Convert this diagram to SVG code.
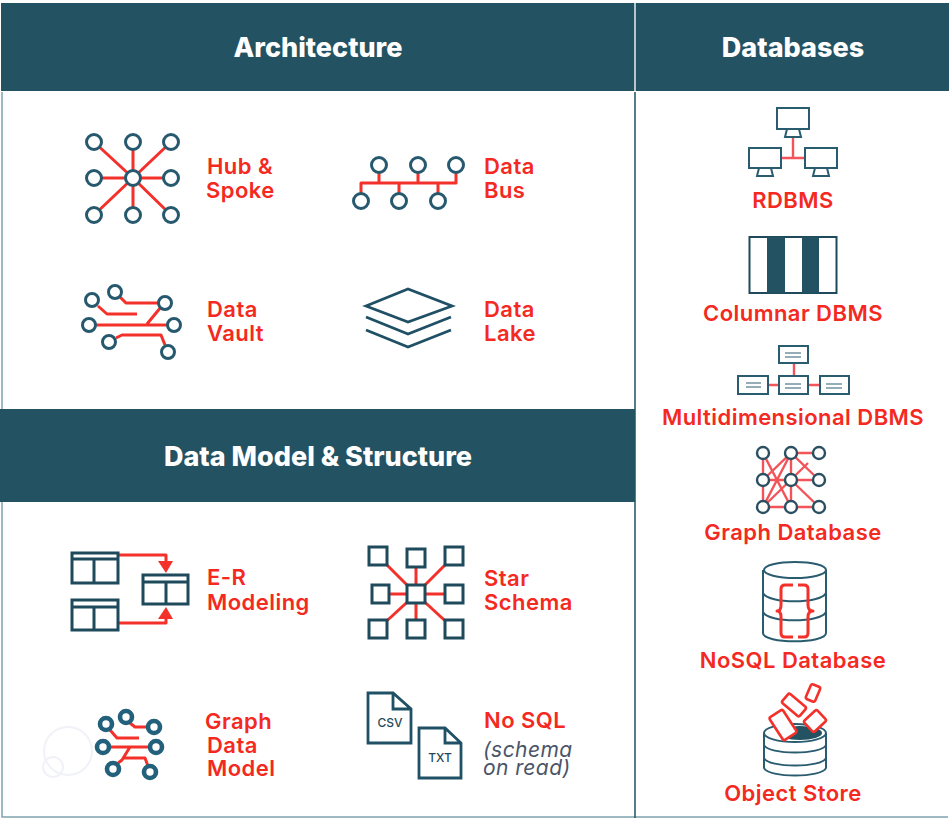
<svg xmlns="http://www.w3.org/2000/svg" width="950" height="820" viewBox="0 0 950 820">
<defs>
<style>
text{font-family:"Inter","Liberation Sans",sans-serif;font-weight:600;letter-spacing:.45px}
.h{fill:#fff;font-size:27px;font-weight:800;text-anchor:middle;letter-spacing:0}
.l{fill:#f4291f;font-size:22px}
.c{fill:#f4291f;font-size:22px;text-anchor:middle}
.i{fill:#4b5568;font-size:21px;font-weight:400;font-style:italic}
.band{fill:#235262}
.n{fill:#fff;stroke:#27596e;stroke-width:3}
.n2{fill:#fff;stroke:#2a4f60;stroke-width:2.4}
.n3{fill:#fff;stroke:#22607c;stroke-width:4.6}
.s{fill:none;stroke:#1f5065;stroke-width:2.8;stroke-linejoin:miter}
.b{fill:#fff;stroke:#1f4a5c;stroke-width:3;stroke-linejoin:miter}
.s2{fill:#fff;stroke:#2a5c70;stroke-width:2;stroke-linejoin:miter}
.s3{fill:none;stroke:#2a5c70;stroke-width:2}
.r{fill:none;stroke:#f4302a;stroke-width:3;stroke-linejoin:round}
.r2{fill:none;stroke:#f2545a;stroke-width:2.4}
.o{fill:#fff;stroke:#f4302a;stroke-width:2.6}
.t{fill:#1f4a5c;font-size:12px;font-weight:500;text-anchor:middle;letter-spacing:0}
</style>
</defs>
<rect width="950" height="820" fill="#fff"/>
<g id="frame">
<path d="M2 92V817H948" stroke="#7fa2af" stroke-width="1.5" fill="none"/>
<path d="M635 92V818" stroke="#2a5c70" stroke-width="1.6" fill="none"/>
<rect class="band" x="1" y="3" width="948" height="88"/>
<rect class="band" x="0" y="409" width="635" height="93"/>
<path d="M635 3V91" stroke="#e8eef0" stroke-width="1.5" fill="none"/>
</g>
<g id="watermark" fill="none" stroke="#f0f2f7" stroke-width="2">
<circle cx="68" cy="751" r="24"/><circle cx="53" cy="767" r="10"/>
</g>
<g id="connectors">
<path class="r" d="M94 142L133 178L171 142M133 142V215M94 178H171M94 215L133 178L171 215"/>
<path class="r" d="M361 199V183H456V165M379 165V183M418 165V183M399 201V183M438 201V183"/>
<path class="r" d="M98 306L107 314H137M120 297L126 303H158M89 325H174M147 324L161 307M116 338L122 335H161L165 345"/>
<path class="r" d="M118 555H166V562M118 623H166V618"/>
<path d="M158 561H173L166 573ZM158 619H173L166 607Z" fill="#f4302a"/>
<path class="r" d="M378 556L416 594L454 556M416 558V629M380 594H454M378 629L416 594L454 629"/>
<path class="r" d="M110 730L117 738H139M130 723L135 727H147M109 747H150M130 747L122 760L117 764M123 758H145L148 766"/>
<path class="r2" d="M793 137V158M781 158H805"/>
<path class="r2" d="M794 364V385M767 385H820"/>
<path class="r2" d="M763 453V507M791 453V507M791 453H819M763 480H819M763 507H819M763 453L791 507M791 453L763 507M763 480L791 453L819 480M763 507L808 463M791 480L819 507"/>
</g>
<g id="hub-spoke">
<circle class="n" cx="94" cy="142" r="7.500"/><circle class="n" cx="133" cy="142" r="7.500"/><circle class="n" cx="171" cy="142" r="7.500"/>
<circle class="n" cx="94" cy="178" r="7.500"/><circle class="n" cx="133" cy="178" r="7.500"/><circle class="n" cx="171" cy="178" r="7.500"/>
<circle class="n" cx="94" cy="215" r="7.500"/><circle class="n" cx="133" cy="215" r="7.500"/><circle class="n" cx="171" cy="215" r="7.500"/>
<text class="l" x="207" y="174">Hub &amp;</text><text class="l" x="206" y="198">Spoke</text>
</g>
<g id="data-bus">
<circle class="n" cx="379" cy="165" r="7.500"/><circle class="n" cx="418" cy="165" r="7.500"/><circle class="n" cx="456" cy="165" r="7.500"/>
<circle class="n" cx="361" cy="201" r="7.500"/><circle class="n" cx="399" cy="201" r="7.500"/><circle class="n" cx="438" cy="201" r="7.500"/>
<text class="l" x="484" y="174">Data</text><text class="l" x="484" y="198">Bus</text>
</g>
<g id="data-vault">
<circle class="n" cx="92" cy="300" r="6.500"/><circle class="n" cx="115" cy="292" r="6.500"/><circle class="n" cx="165" cy="303" r="6.500"/>
<circle class="n" cx="89" cy="325" r="6.500"/><circle class="n" cx="174" cy="325" r="6.500"/><circle class="n" cx="109" cy="342" r="6.500"/><circle class="n" cx="168" cy="352" r="6.500"/>
<text class="l" x="207" y="317">Data</text><text class="l" x="207" y="341">Vault</text>
</g>
<g id="data-lake">
<path class="s" d="M366 306L408 289L452 306L408 322Z"/>
<path class="s" d="M366 317L408 334L451 317M366 330L408 347L451 330"/>
<text class="l" x="484" y="317">Data</text><text class="l" x="484" y="341">Lake</text>
</g>
<g id="rdbms">
<path class="s2" d="M777 108H809V129H777ZM787 129H799L801 137H785ZM749 148H781V168H749ZM759 168H771L773 176H757ZM805 148H837V168H805ZM815 168H827L829 176H813Z"/>
<text class="c" x="793" y="208">RDBMS</text>
</g>
<g id="columnar">
<rect x="749.500" y="237" width="87" height="56" fill="none" stroke="#1f4a5c" stroke-width="2"/>
<rect x="767" y="237" width="18" height="56" fill="#235262"/><rect x="802" y="237" width="17" height="56" fill="#235262"/>
<text class="c" x="793" y="321">Columnar DBMS</text>
</g>
<g id="multidim">
<path class="s2" d="M779 346H808V363H779ZM738 376H768V394H738ZM779 376H808V394H779ZM820 376H849V394H820Z"/>
<path d="M785 353H801M785 357H801M746 383H761M746 387H761M785 384H801M785 388H801M826 384H842M826 388H842" stroke="#2a5c70" stroke-width="1.200"/>
<text class="c" x="793" y="425">Multidimensional DBMS</text>
</g>
<g id="graph-db">
<circle class="n2" cx="763" cy="453" r="6"/><circle class="n2" cx="791" cy="453" r="6"/><circle class="n2" cx="819" cy="453" r="6"/>
<circle class="n2" cx="763" cy="480" r="6"/><circle class="n2" cx="791" cy="480" r="6"/><circle class="n2" cx="819" cy="480" r="6"/>
<circle class="n2" cx="763" cy="507" r="6"/><circle class="n2" cx="791" cy="507" r="6"/><circle class="n2" cx="819" cy="507" r="6"/>
<text class="c" x="793" y="540">Graph Database</text>
</g>
<g id="nosql-db">
<path class="s3" d="M763 570V633C763 644 826 644 826 633V570"/>
<ellipse class="s2" cx="795" cy="570" rx="31" ry="8"/>
<path class="s3" d="M763 593C768 604 821 604 826 593M763 612C768 623 821 623 826 612"/>
<path class="r" d="M793 585H785Q781 585 781 589V605Q781 611 777 611Q781 611 781 617V633Q781 637 785 637H793M798 585H804Q808 585 808 589V605Q808 611 813 611Q808 611 808 617V633Q808 637 804 637H798"/>
<text class="c" x="793" y="668">NoSQL Database</text>
</g>
<g id="object-store">
<path class="s3" d="M764 733V768C768 778 822 778 826 768V733"/>
<ellipse class="s2" cx="795" cy="733" rx="31" ry="9"/>
<ellipse cx="800" cy="733" rx="22" ry="7" fill="#235262"/>
<path class="s3" d="M764 745C768 755 822 755 826 745M764 758C768 768 822 768 826 758"/>
<rect class="o" x="-5" y="-8" width="10" height="16" rx="2" transform="translate(813 693) rotate(23)"/>
<rect class="o" x="-11.500" y="-6" width="23" height="12" rx="2" transform="translate(794 705) rotate(40)"/>
<rect class="o" x="-8" y="-13.500" width="16" height="27" rx="2" transform="translate(783 725) rotate(-33)"/>
<rect class="o" x="-9" y="-7.500" width="18" height="15" rx="2" transform="translate(815 721) rotate(-43)"/>
<text class="c" x="793" y="801">Object Store</text>
</g>
<g id="er">
<path class="b" d="M72 553H118V583H72ZM72 559H118M94 559V583M72 600H118V630H72ZM72 607H118M94 607V630M143 575H188V604H143ZM143 582H188M166 582V604"/>
<text class="l" x="207" y="585">E-R</text><text class="l" x="207" y="610">Modeling</text>
</g>
<g id="star">
<path class="b" d="M369 547H387V565H369ZM407 549H425V567H407ZM445 547H463V565H445ZM372 585H389V603H372ZM407 585H425V603H407ZM445 585H463V603H445ZM369 620H387V638H369ZM407 620H425V638H407ZM445 620H463V638H445Z"/>
<text class="l" x="484" y="586">Star</text><text class="l" x="484" y="610">Schema</text>
</g>
<g id="graph-model">
<circle class="n3" cx="106" cy="724" r="6"/><circle class="n3" cx="126" cy="717" r="6"/><circle class="n3" cx="154" cy="727" r="6"/>
<circle class="n3" cx="103" cy="747" r="6"/><circle class="n3" cx="156" cy="747" r="6"/><circle class="n3" cx="113" cy="769" r="6"/><circle class="n3" cx="150" cy="772" r="6"/>
<text class="l" x="205" y="729">Graph</text><text class="l" x="207" y="753">Data</text><text class="l" x="207" y="776">Model</text>
</g>
<g id="nosql">
<path class="s" d="M368 693H393L411 709V743H368ZM393 693V709H411M419 728H445L461 743V778H419ZM445 728V743H461"/>
<text class="t" x="390" y="727">CSV</text><text class="t" x="440" y="762">TXT</text>
<text class="l" x="484" y="728">No SQL</text>
<text class="i" x="483" y="757">(schema</text><text class="i" x="483" y="775">on read)</text>
</g>
<g id="headers">
<text class="h" x="318" y="57">Architecture</text>
<text class="h" x="793" y="57">Databases</text>
<text class="h" x="318" y="466">Data Model &amp; Structure</text>
</g>
</svg>
